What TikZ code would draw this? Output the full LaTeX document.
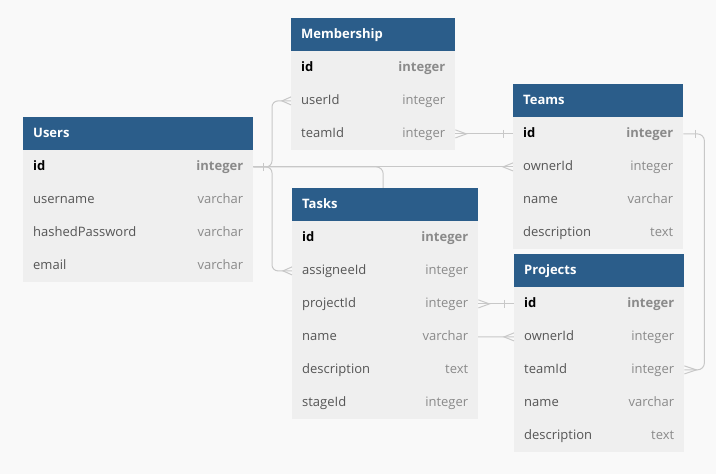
\documentclass[tikz,border=0pt]{standalone}
\usepackage{fontspec}
\setmainfont{Open Sans}
\usetikzlibrary{calc}
\definecolor{bgcol}{HTML}{F9F9F9}
\definecolor{hdrblue}{HTML}{2B5D8A}
\definecolor{bodygray}{HTML}{EFEFEF}
\definecolor{namegray}{HTML}{555555}
\definecolor{typegray}{HTML}{8A8A8A}
\definecolor{linegray}{HTML}{C8C8C8}
\pgfdeclarelayer{back}\pgfdeclarelayer{bg}\pgfsetlayers{back,bg,main}
\tikzset{
  hdrbox/.style={fill=hdrblue, minimum height=33, inner sep=0, anchor=north west, draw=none},
  hdrtext/.style={text=white, font=\fontsize{13}{15}\selectfont\bfseries, anchor=west, inner sep=0, text height=1.5ex, text depth=.25ex},
  rowbox/.style={fill=bodygray, minimum height=33, inner sep=0, draw=none},
  fname/.style={text=namegray, font=\fontsize{13}{15}\selectfont, anchor=west, inner sep=0, text height=1.5ex, text depth=.25ex},
  fkey/.style={text=black, font=\fontsize{13}{15}\selectfont\bfseries, anchor=west, inner sep=0, text height=1.5ex, text depth=.25ex},
  ftype/.style={text=typegray, font=\fontsize{13}{15}\selectfont, anchor=east, inner sep=0, text height=1.5ex, text depth=.25ex},
  fkeytype/.style={text=typegray, font=\fontsize{13}{15}\selectfont\bfseries, anchor=east, inner sep=0, text height=1.5ex, text depth=.25ex},
  conn/.style={draw=linegray, line width=1pt},
}
% #1 table id, #2 x, #3 y, #4 width, #5 title
\newcommand\erTable[5]{%
  \node[hdrbox, minimum width=#4] (#1) at (#2,#3) {};
  \node[hdrtext] (#1-title) at ([xshift=10]#1.west) {#5};
}
% #1 table id, #2 row id, #3 index, #4 width, #5 field, #6 type, #7 name style, #8 type style
\newcommand\erRow[8]{%
  \node[rowbox, minimum width=#4] (#1-#2) at ($(#1.south)+(0,{16.5+33*#3})$) {};
  \node[#7] (#1-#2-name) at ([xshift=10]#1-#2.west) {#5};
  \node[#8] (#1-#2-type) at ([xshift=-10]#1-#2.east) {#6};
}
\newcommand\oneMark[2]{\draw[conn] ([xshift=#2,yshift=4]#1) -- ([xshift=#2,yshift=-4]#1);}
\newcommand\manyMark[2]{\draw[conn] ([yshift=4]#1) -- ([xshift=#2]#1) -- ([yshift=-4]#1);}
\begin{document}
\begin{tikzpicture}[x=1pt,y=-1pt]
\begin{pgfonlayer}{back}
\fill[bgcol] (0,0) rectangle (716,474);
\end{pgfonlayer}
\useasboundingbox (0,0) rectangle (716,474);

% Users
\erTable{users}{23}{117}{230}{Users}
\erRow{users}{id}{0}{230}{id}{integer}{fkey}{fkeytype}
\erRow{users}{username}{1}{230}{username}{varchar}{fname}{ftype}
\erRow{users}{hashedPassword}{2}{230}{hashedPassword}{varchar}{fname}{ftype}
\erRow{users}{email}{3}{230}{email}{varchar}{fname}{ftype}

% Membership
\erTable{membership}{291}{18}{164}{Membership}
\erRow{membership}{id}{0}{164}{id}{integer}{fkey}{fkeytype}
\erRow{membership}{userId}{1}{164}{userId}{integer}{fname}{ftype}
\erRow{membership}{teamId}{2}{164}{teamId}{integer}{fname}{ftype}

% Teams
\erTable{teams}{513}{84}{170}{Teams}
\erRow{teams}{id}{0}{170}{id}{integer}{fkey}{fkeytype}
\erRow{teams}{ownerId}{1}{170}{ownerId}{integer}{fname}{ftype}
\erRow{teams}{name}{2}{170}{name}{varchar}{fname}{ftype}
\erRow{teams}{description}{3}{170}{description}{text}{fname}{ftype}

% Tasks
\erTable{tasks}{292}{188}{186}{Tasks}
\erRow{tasks}{id}{0}{186}{id}{integer}{fkey}{fkeytype}
\erRow{tasks}{assigneeId}{1}{186}{assigneeId}{integer}{fname}{ftype}
\erRow{tasks}{projectId}{2}{186}{projectId}{integer}{fname}{ftype}
\erRow{tasks}{name}{3}{186}{name}{varchar}{fname}{ftype}
\erRow{tasks}{description}{4}{186}{description}{text}{fname}{ftype}
\erRow{tasks}{stageId}{5}{186}{stageId}{integer}{fname}{ftype}

% Projects
\erTable{projects}{514}{254}{170}{Projects}
\erRow{projects}{id}{0}{170}{id}{integer}{fkey}{fkeytype}
\erRow{projects}{ownerId}{1}{170}{ownerId}{integer}{fname}{ftype}
\erRow{projects}{teamId}{2}{170}{teamId}{integer}{fname}{ftype}
\erRow{projects}{name}{3}{170}{name}{varchar}{fname}{ftype}
\erRow{projects}{description}{4}{170}{description}{text}{fname}{ftype}

\begin{pgfonlayer}{bg}
\draw[conn, rounded corners=6] (users-id.east) -| ([xshift=-19]membership-userId.west) -- (membership-userId.west);
\draw[conn, rounded corners=6] (users-id.east) -| ([xshift=-20]tasks-assigneeId.west) -- (tasks-assigneeId.west);
\draw[conn] (users-id.east) -- (teams-ownerId.west);
\draw[conn, rounded corners=7] (users-id.east) -| ([xshift=-2]tasks.north |- projects-ownerId.west) -- (projects-ownerId.west);
\draw[conn] (membership-teamId.east) -- (teams-id.west);
\draw[conn] (tasks-projectId.east) -- (projects-id.west);
\draw[conn, rounded corners=7] (teams-id.east) -- ++(21,0) |- (projects-teamId.east);
\end{pgfonlayer}

\oneMark{users-id.east}{10}
\oneMark{teams-id.west}{-10}
\oneMark{projects-id.west}{-10}
\oneMark{teams-id.east}{12}
\manyMark{membership-userId.west}{-9}
\manyMark{tasks-assigneeId.west}{-9}
\manyMark{teams-ownerId.west}{-10}
\manyMark{projects-ownerId.west}{-10}
\manyMark{membership-teamId.east}{11}
\manyMark{tasks-projectId.east}{11}
\manyMark{projects-teamId.east}{12}
\end{tikzpicture}
\end{document}
